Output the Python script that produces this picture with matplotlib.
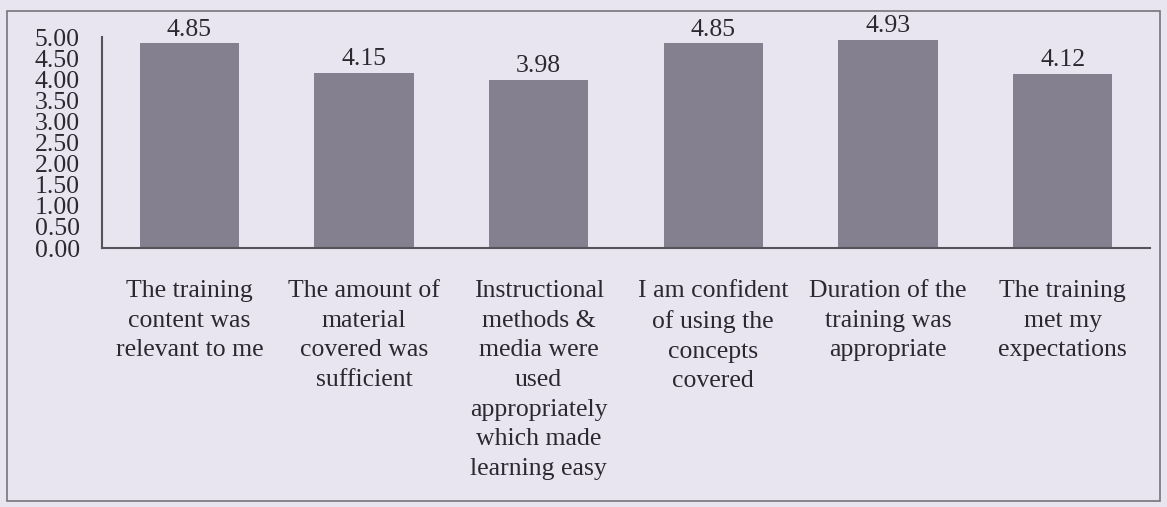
import matplotlib
matplotlib.use("Agg")
import matplotlib.pyplot as plt
from matplotlib.patches import Rectangle

categories = [
    "The training\ncontent was\nrelevant to me",
    "The amount of\nmaterial\ncovered was\nsufficient",
    "Instructional\nmethods &\nmedia were\nused\nappropriately\nwhich made\nlearning easy",
    "I am confident\nof using the\nconcepts\ncovered",
    "Duration of the\ntraining was\nappropriate",
    "The training\nmet my\nexpectations",
]
values = [4.85, 4.15, 3.98, 4.85, 4.93, 4.12]
yticks = [0.0, 0.5, 1.0, 1.5, 2.0, 2.5, 3.0, 3.5, 4.0, 4.5, 5.0]

bg = "#e8e5f1"
bar_color = "#848090"
text_color = "#2b2930"

plt.rcParams['font.family'] = ['Liberation Serif', 'DejaVu Serif']

fig = plt.figure(figsize=(11.67, 5.07), dpi=100, facecolor=bg)
ax = fig.add_axes([0.0874, 0.5108, 0.898, 0.4162], facecolor=bg)

x = list(range(len(values)))
bars = ax.bar(x, values, width=0.57, color=bar_color, edgecolor="none")

for xi, v in zip(x, values):
    ax.annotate(f"{v:.2f}", (xi, v), xytext=(0, 2), textcoords="offset points",
                ha="center", va="bottom", fontsize=18.5, color=text_color)

ax.set_xlim(-0.5, 5.5)
ax.set_ylim(0, 5)
ax.set_yticks(yticks)
ax.set_yticklabels([f"{t:.2f}" for t in yticks], fontsize=18.5, color=text_color)
ax.set_xticks(x)
ax.set_xticklabels(categories, fontsize=18.5, color=text_color, linespacing=1.45, va="top")
ax.tick_params(axis="y", length=0, pad=16)
ax.tick_params(axis="x", length=0, pad=23)

for s in ["top", "right"]:
    ax.spines[s].set_visible(False)
for s in ["left", "bottom"]:
    ax.spines[s].set_color("#55525a")
    ax.spines[s].set_linewidth(1.5)

# outer chart border
fig.patches.append(Rectangle((7 / 1167, 6 / 507), 1153 / 1167, 490 / 507,
                             transform=fig.transFigure, fill=False,
                             edgecolor="#77747c", linewidth=1.2))

fig.savefig("out.png", dpi=100, facecolor=bg)
